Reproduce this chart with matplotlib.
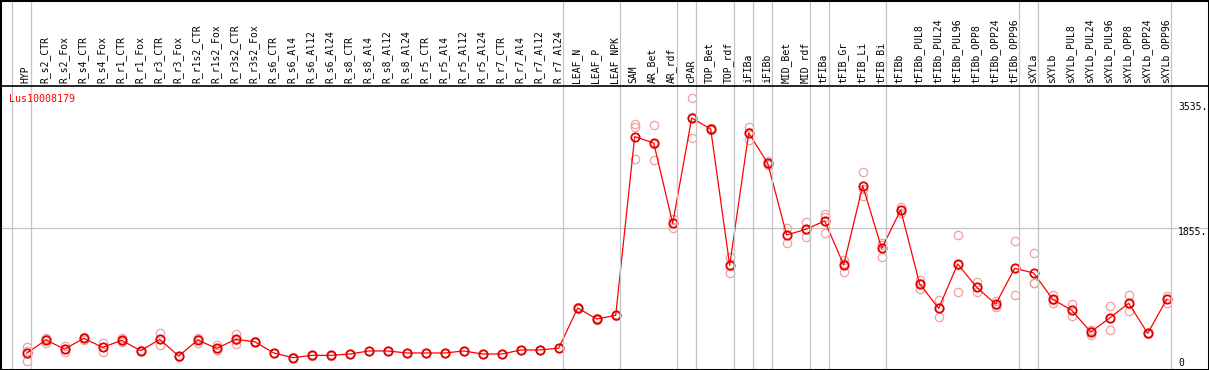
import matplotlib
matplotlib.use('Agg')
import matplotlib.pyplot as plt
import matplotlib.transforms as mtransforms
from matplotlib.lines import Line2D
from matplotlib.patches import Rectangle

gene = "Lus10008179"

samples = ["HYP", "R_s2_CTR", "R_s2_Fox", "R_s4_CTR", "R_s4_Fox", "R_r1_CTR", "R_r1_Fox",
           "R_r3_CTR", "R_r3_Fox", "R_r1s2_CTR", "R_r1s2_Fox", "R_r3s2_CTR", "R_r3s2_Fox",
           "R_s6_CTR", "R_s6_Al4", "R_s6_Al12", "R_s6_Al24", "R_s8_CTR", "R_s8_Al4",
           "R_s8_Al12", "R_s8_Al24", "R_r5_CTR", "R_r5_Al4", "R_r5_Al12", "R_r5_Al24",
           "R_r7_CTR", "R_r7_Al4", "R_r7_Al12", "R_r7_Al24", "LEAF_N", "LEAF_P", "LEAF_NPK",
           "SAM", "AR_Bet", "AR_rdf", "cPAR", "TOP_Bet", "TOP_rdf", "iFIBa", "iFIBb",
           "MID_Bet", "MID_rdf", "tFIBa", "tFIB_Gr", "tFIB_Li", "tFIB_Bi", "tFIBb",
           "tFIBb_PUL8", "tFIBb_PUL24", "tFIBb_PUL96", "tFIBb_OPP8", "tFIBb_OPP24",
           "tFIBb_OPP96", "sXYLa", "sXYLb", "sXYLb_PUL8", "sXYLb_PUL24", "sXYLb_PUL96",
           "sXYLb_OPP8", "sXYLb_OPP24", "sXYLb_OPP96"]

# mean expression per sample (red line)
means = [171, 349, 228, 372, 251, 345, 206, 358, 134, 349, 237, 358, 327,
         175, 112, 143, 143, 161, 202, 202, 175, 175, 175, 202, 161,
         161, 215, 215, 240, 780, 632, 681,
         3083, 2997, 1918, 3333, 3185, 1353, 3132, 2724,
         1761, 1837, 1949, 1358, 2424, 1581, 2097,
         1102, 775, 1371, 1057, 831, 1313,
         1250, 896, 749, 457, 645, 843, 439, 896]

# replicates (pale circles)
rep1 = [195, 372, 273, 394, 313, 381, 212, 439, 140, 372, 282, 426, 334,
        180, 116, 147, 147, 165, 206, 206, 179, 179, 179, 206, 165,
        165, 219, 219, 245, 790, 640, 690,
        3253, 3235, 1976, 3598, 3203, 1470, 3217, 2755,
        1859, 1931, 2043, 1425, 2603, 1649, 2141,
        1156, 887, 1761, 1125, 878, 1676,
        1519, 954, 833, 484, 802, 950, 445, 941]
rep2 = [67, 313, 184, 349, 188, 323, 200, 278, 125, 313, 215, 296, 320,
        170, 108, 139, 139, 157, 198, 198, 171, 171, 171, 198, 157,
        157, 211, 211, 236, 770, 624, 672,
        2778, 2769, 1859, 3060, 3172, 1250, 3038, 2700,
        1657, 1738, 1792, 1268, 2289, 1461, 2052,
        1035, 663, 990, 990, 797, 950,
        1116, 843, 668, 417, 484, 739, 430, 851]
rep3 = [250, 362, 228, 372, 252, 331, 206, 357, 137, 362, 214, 352, 327,
        175, 112, 143, 143, 161, 202, 202, 175, 175, 175, 202, 161,
        161, 215, 215, 240, 780, 632, 681,
        3217, 2987, 1919, 3341, 3185, 1339, 3141, 2717,
        1767, 1842, 2007, 1381, 2380, 1633, 2098,
        1115, 775, 1362, 1056, 818, 1313,
        1115, 891, 746, 470, 649, 840, 442, 896]

# sample index after which a grey separator is drawn
group_ends = [0, 1, 29, 32, 35, 36, 38, 39, 40, 42, 43, 46, 53, 54, 61]
ref_lines = [1855]
tick_vals = [3535, 1855, 0]
tick_text = ["3535.", "1855.", "0"]

W, H = 1209, 370
fig = plt.figure(figsize=(W / 100, H / 100), dpi=100)
fig.patch.set_facecolor('white')

# plot area spans pixel rows 85..369
ax = fig.add_axes([0, 1 / H, 1, (369 - 85) / H])
ax.set_axis_off()
x = list(range(1, len(samples) + 1))
ax.set_xlim(1 - 26.7 / 19, 1 + (W - 26.7) / 19)
ax.set_ylim(-3 / 0.0744, 281 / 0.0744)

mono = 'DejaVu Sans Mono'

# grey separators through the whole figure height
trans_vx = mtransforms.blended_transform_factory(ax.transData, fig.transFigure)
for g in group_ends:
    fig.add_artist(Line2D([g + 0.23, g + 0.23], [0, 1], transform=trans_vx,
                          color='#c4c4c4', lw=0.9, zorder=1))
for r in ref_lines:
    ax.axhline(r, color='#c4c4c4', lw=0.9, zorder=1)

# replicates
for reps in (rep1, rep2, rep3):
    ax.plot(x, reps, ls='none', marker='o', ms=6, mfc='none', mec='#f0a0a0',
            mew=0.9, zorder=2, clip_on=False)

# mean line
ax.plot(x, means, color='red', lw=0.9, marker='o', ms=6, mfc='none', mec='#e00000',
        mew=1.3, zorder=3, clip_on=False)

# sample labels, rotated, sitting on the header line
trans_lab = mtransforms.blended_transform_factory(ax.transData, fig.transFigure)
for xi, s in zip(x, samples):
    ax.text(xi - 0.05, 1 - 83 / H, s, rotation=90, ha='center', va='bottom',
            transform=trans_lab, fontsize=7, family=mono, color='black', clip_on=False)

# value labels on the right
trans_tick = mtransforms.blended_transform_factory(fig.transFigure, ax.transData)
for v, t in zip(tick_vals, tick_text):
    yy = v if v == 0 else v - 7.5 / 0.0744
    ax.text(1178 / W, yy, t, ha='left', va='baseline', transform=trans_tick,
            fontsize=7, family=mono, color='black', clip_on=False)

fig.text(9 / W, 1 - 102 / H, gene, ha='left', va='baseline', fontsize=7.2,
         family=mono, color='red')

# frame and header line
fig.add_artist(Rectangle((0, 0), 1, 1, transform=fig.transFigure, fill=False,
                         ec='black', lw=2.2, zorder=5))
fig.add_artist(Line2D([0, 1], [1 - 85.5 / H, 1 - 85.5 / H], transform=fig.transFigure,
                      color='black', lw=1.2, zorder=5))

fig.savefig('out.png', dpi=100)
